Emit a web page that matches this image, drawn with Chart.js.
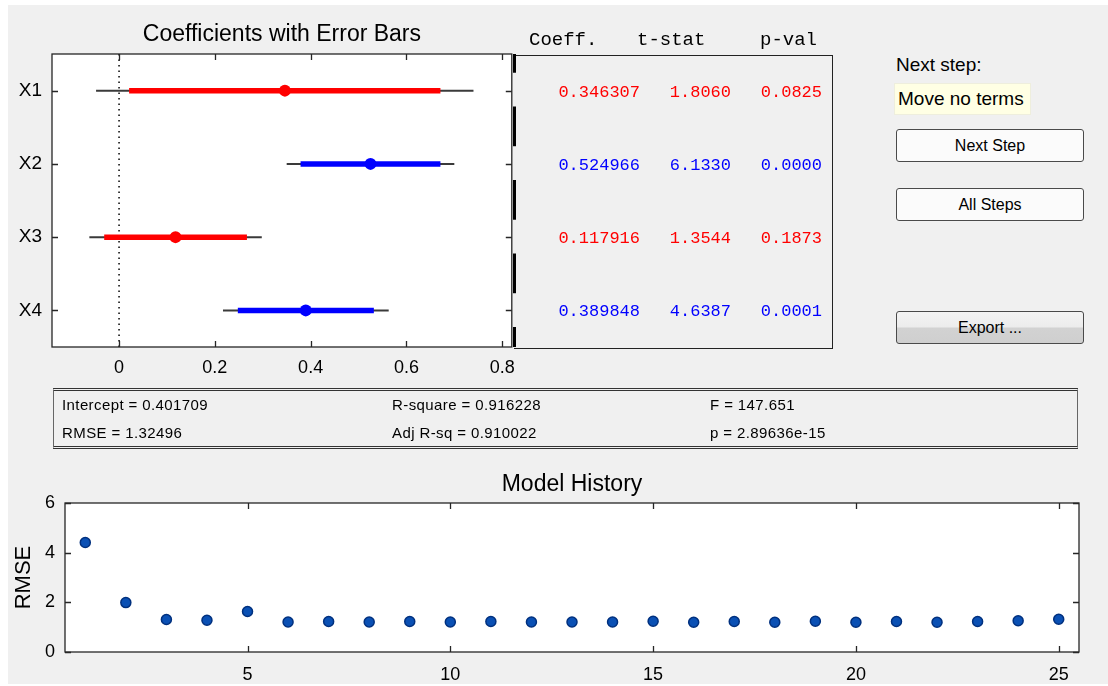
<!DOCTYPE html>
<html>
<head>
<meta charset="utf-8">
<script src="https://cdn.jsdelivr.net/npm/chart.js@4.4.1/dist/chart.umd.min.js"></script>
<style>
  body { margin: 0; width: 1108px; height: 686px; overflow: hidden; position: relative; background: #fff;
         font-family: "Liberation Sans", Arial, sans-serif; color: #000; }
  #panel { position: absolute; left: 8px; top: 5px; width: 1100px; height: 679px; background: #f0f0f0; }
  canvas { position: absolute; }
  .mono { position: absolute; font-family: "Liberation Mono", "DejaVu Sans Mono", monospace; white-space: nowrap; }
  .lbl { position: absolute; white-space: nowrap; }
  .btn { position: absolute; left: 896px; width: 186px; height: 31px; border: 1px solid #4a4a4a; border-radius: 3px;
         background: #fbfbfb; font-size: 16px; line-height: 31px; text-align: center; box-shadow: 0 0 1px #fff; }
  #tableBox { position: absolute; left: 514px; top: 55px; width: 318px; height: 292px;
              border-top: 1.5px solid #222; border-right: 1.5px solid #222; border-bottom: 1.5px solid #222; }
  #dashEdge { position: absolute; left: 513px; top: 54px; width: 3px; height: 293px;
              background-image: linear-gradient(to bottom, #000 0 40px, transparent 40px 73.5px);
              background-size: 3px 73.5px; background-position: 0 -21px; }
  #statsBox { position: absolute; left: 53px; top: 388px; width: 1023px; height: 55px;
              border-top: 3px double #333; border-bottom: 3px double #333;
              border-left: 1px solid #666; border-right: 1px solid #666; }
  .stat { position: absolute; font-size: 15px; letter-spacing: 0.4px; line-height: 18px; white-space: nowrap; }
</style>
</head>
<body>
<div id="panel"></div>
<canvas id="coefChart" width="525" height="395" style="left:0;top:0"></canvas>
<canvas id="histChart" width="1108" height="226" style="left:0;top:460px"></canvas>
<div id="tableBox"></div>
<div id="dashEdge"></div>
<div id="statsBox"></div>
<div id="overlay"></div>
<script>
// ---- data ----
const terms = ['X1', 'X2', 'X3', 'X4']
const coef = [0.346307, 0.524966, 0.117916, 0.389848]
const tStat = [1.8060, 6.1330, 1.3544, 4.6387]
const pVal = [0.0825, 0.0000, 0.1873, 0.0001]
const inModel = [false, true, false, true]
// 95% and 90% interval ends
const ciOuterLo = [-0.048, 0.350, -0.062, 0.217]
const ciOuterHi = [0.740, 0.700, 0.298, 0.563]
const ciInnerLo = [0.021, 0.379, -0.031, 0.248]
const ciInnerHi = [0.671, 0.671, 0.267, 0.532]
const coefTicks = [0, 0.2, 0.4, 0.6, 0.8]
const zeroLine = 0

const steps = [1, 2, 3, 4, 5, 6, 7, 8, 9, 10, 11, 12, 13, 14, 15, 16, 17, 18, 19, 20, 21, 22, 23, 24, 25]
const rmseHist = [4.41, 1.99, 1.31, 1.28, 1.63, 1.21, 1.23, 1.21, 1.23, 1.21, 1.23, 1.21, 1.21,
                  1.21, 1.24, 1.20, 1.23, 1.20, 1.24, 1.20, 1.23, 1.20, 1.23, 1.26, 1.32]
const stepTicks = [5, 10, 15, 20, 25]
const rmseTicks = [0, 2, 4, 6]

const headers = ['Coeff.', 't-stat', 'p-val']
const statsText = [
    ['Intercept = 0.401709', 'R-square = 0.916228', 'F = 147.651'],
    ['RMSE = 1.32496', 'Adj R-sq = 0.910022', 'p = 2.89636e-15']
]

const FONT = '"Liberation Sans", Arial, sans-serif'

// white plot area, box and inward ticks like matlab axes
const axesBox = {
    id: 'axesBox',
    beforeDatasetsDraw(chart) {
        const { ctx, chartArea: a } = chart
        ctx.save()
        ctx.fillStyle = '#fff'
        ctx.fillRect(a.left, a.top, a.width, a.height)
        ctx.restore()
    },
    afterDatasetsDraw(chart) {
        const { ctx, chartArea: a, scales } = chart
        const len = 6
        ctx.save()
        ctx.strokeStyle = '#262626'
        ctx.lineWidth = 1.3
        ctx.strokeRect(a.left, a.top, a.width, a.height)
        ctx.beginPath()
        scales.x.ticks.forEach(t => {
            const px = Math.round(scales.x.getPixelForValue(t.value)) + 0.5
            ctx.moveTo(px, a.bottom); ctx.lineTo(px, a.bottom - len)
            ctx.moveTo(px, a.top); ctx.lineTo(px, a.top + len)
        })
        scales.y.ticks.forEach(t => {
            const py = Math.round(scales.y.getPixelForValue(t.value)) + 0.5
            ctx.moveTo(a.left, py); ctx.lineTo(a.left + len, py)
            ctx.moveTo(a.right, py); ctx.lineTo(a.right - len, py)
        })
        ctx.stroke()
        ctx.restore()
    }
}

// ---- coefficient chart ----
let coefSets = []
terms.forEach((t, i) => {
    let row = i + 1
    let col = inModel[i] ? '#0000ff' : '#ff0000'
    coefSets.push({
        data: [{ x: ciOuterLo[i], y: row }, { x: ciOuterHi[i], y: row }],
        showLine: true, borderColor: '#3a3a3a', borderWidth: 2, pointRadius: 0, order: 3
    })
    coefSets.push({
        data: [{ x: ciInnerLo[i], y: row }, { x: ciInnerHi[i], y: row }],
        showLine: true, borderColor: col, borderWidth: 5.5, borderCapStyle: 'butt', pointRadius: 0, order: 2
    })
})
coefSets.push({
    data: coef.map((c, i) => ({ x: c, y: i + 1 })),
    showLine: false, pointRadius: 6, pointBorderWidth: 0,
    pointBackgroundColor: inModel.map(m => m ? '#0000ff' : '#ff0000'), order: 1
})
coefSets.push({
    data: [{ x: zeroLine, y: 0.5 }, { x: zeroLine, y: 4.5 }],
    showLine: true, borderColor: '#000', borderWidth: 1.5, borderDash: [1.5, 4], pointRadius: 0, order: 4
})

const coefChart = new Chart(document.getElementById('coefChart'), {
    type: 'scatter',
    data: { datasets: coefSets },
    options: {
        responsive: false,
        animation: false,
        events: [],
        layout: { padding: { right: 12 } },
        plugins: {
            legend: { display: false },
            tooltip: { enabled: false },
            title: {
                display: true, fullSize: false, text: 'Coefficients with Error Bars', color: '#000',
                font: { family: FONT, size: 23, weight: 'normal' }, padding: { top: 21, bottom: 5.4 }
            }
        },
        scales: {
            x: {
                type: 'linear', min: -0.14, max: 0.82,
                afterBuildTicks: s => { s.ticks = coefTicks.map(v => ({ value: v })) },
                afterFit: s => { s.height = 48 },
                grid: { display: false, drawTicks: false }, border: { display: false },
                ticks: { padding: 10, autoSkip: false, maxRotation: 0, color: '#000',
                         font: { family: FONT, size: 18 }, callback: v => String(v) }
            },
            y: {
                type: 'linear', min: 0.5, max: 4.5, reverse: true,
                afterBuildTicks: s => { s.ticks = terms.map((_, i) => ({ value: i + 1 })) },
                afterFit: s => { s.width = 52 },
                grid: { display: false, drawTicks: false }, border: { display: false },
                ticks: { padding: 10, autoSkip: false, color: '#000',
                         font: { family: FONT, size: 19 }, callback: v => terms[v - 1] }
            }
        }
    },
    plugins: [axesBox]
})

// ---- model history chart ----
const histChart = new Chart(document.getElementById('histChart'), {
    type: 'scatter',
    data: {
        datasets: [{
            data: steps.map((s, i) => ({ x: s, y: rmseHist[i] })),
            pointRadius: 5, pointBackgroundColor: '#0a50b4', pointBorderColor: '#00307e', pointBorderWidth: 1.5
        }]
    },
    options: {
        responsive: false,
        animation: false,
        events: [],
        layout: { padding: { right: 29 } },
        plugins: {
            legend: { display: false },
            tooltip: { enabled: false },
            title: {
                display: true, fullSize: false, text: 'Model History', color: '#000',
                font: { family: FONT, size: 23, weight: 'normal' }, padding: { top: 11.2, bottom: 4.2 }
            }
        },
        scales: {
            x: {
                type: 'linear', min: 0.5, max: 25.5,
                afterBuildTicks: s => { s.ticks = stepTicks.map(v => ({ value: v })) },
                afterFit: s => { s.height = 34 },
                grid: { display: false, drawTicks: false }, border: { display: false },
                ticks: { padding: 12, autoSkip: false, maxRotation: 0, color: '#000',
                         font: { family: FONT, size: 18 } }
            },
            y: {
                type: 'linear', min: 0, max: 6,
                afterBuildTicks: s => { s.ticks = rmseTicks.map(v => ({ value: v })) },
                afterFit: s => { s.width = 65 },
                grid: { display: false, drawTicks: false }, border: { display: false },
                title: { display: true, text: 'RMSE', color: '#000', font: { family: FONT, size: 22 },
                         padding: { top: 11, bottom: 0 } },
                ticks: { padding: 10, autoSkip: false, color: '#000', font: { family: FONT, size: 18 } }
            }
        }
    },
    plugins: [axesBox]
})

// ---- text panels (table, step info, buttons, stats) ----
let overlay = document.getElementById('overlay')

function addEl(cls, text, style) {
    let el = document.createElement('div')
    el.className = cls
    el.textContent = text
    Object.assign(el.style, style)
    overlay.appendChild(el)
    return el
}

let headerLeft = [529, 637, 760]
headers.forEach((h, j) => {
    addEl('mono', h, { left: headerLeft[j] + 'px', top: '28px', fontSize: '19px', lineHeight: '24px' })
})

let colRight = [640, 731, 822]
terms.forEach((t, i) => {
    let py = coefChart.scales.y.getPixelForValue(i + 1) + 2
    let col = inModel[i] ? '#0000ff' : '#ff0000'
    let cells = [coef[i].toFixed(6), tStat[i].toFixed(4), pVal[i].toFixed(4)]
    cells.forEach((c, j) => {
        addEl('mono', c, { right: (1108 - colRight[j]) + 'px', top: (py - 10) + 'px',
                           fontSize: '17px', lineHeight: '20px', color: col })
    })
})

addEl('lbl', 'Next step:', { left: '896px', top: '54px', fontSize: '19px', lineHeight: '22px' })
addEl('lbl', 'Move no terms', { left: '894px', top: '83px', width: '132px', height: '30px', paddingLeft: '3px',
                                fontSize: '19px', lineHeight: '30px', background: '#ffffe4',
                                border: '1px solid #eeeedd' })
addEl('btn', 'Next Step', { top: '129px' })
addEl('btn', 'All Steps', { top: '188px' })
addEl('btn', 'Export ...', { top: '311px', background: 'linear-gradient(to bottom, #f4f4f4 0%, #ececec 48%, #d2d2d2 52%, #cfcfcf 100%)' })

let statLeft = [62, 392, 710]
let statTop = [396, 424]
statsText.forEach((row, r) => {
    row.forEach((s, c) => {
        addEl('stat', s, { left: statLeft[c] + 'px', top: statTop[r] + 'px' })
    })
})
</script>
</body>
</html>
